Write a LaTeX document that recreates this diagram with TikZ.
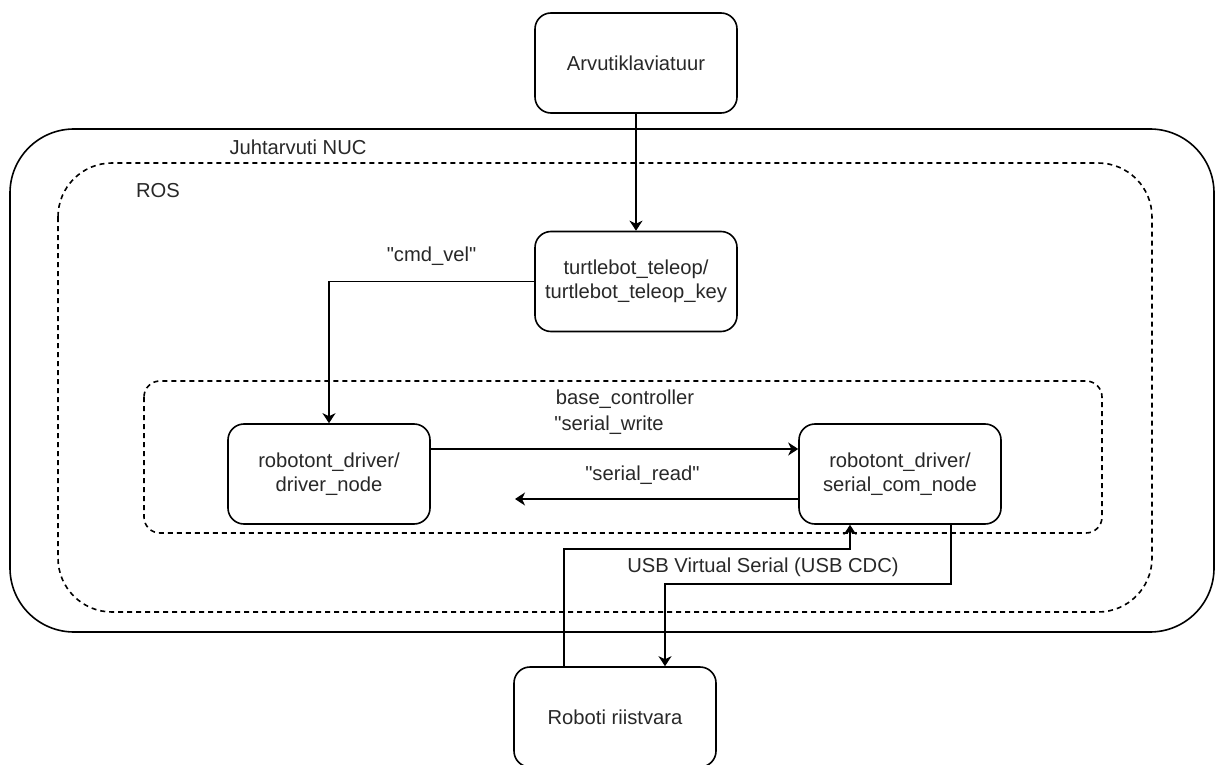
\documentclass[tikz,border=0pt]{standalone}
\usepackage{fontspec}
\setmainfont{Liberation Sans}[Ligatures=TeXOff]
\usetikzlibrary{arrows.meta,calc}
\definecolor{txt}{RGB}{40,40,40}
\begin{document}
\begin{tikzpicture}[x=0.5pt,y=-0.5pt,
  box/.style={draw,line width=0.8pt,rounded corners=8pt,minimum width=101pt,minimum height=50pt,align=center,inner sep=0pt,font=\fontsize{10.1}{12}\selectfont,text=txt},
  lbl/.style={font=\fontsize{10.1}{12}\selectfont,text=txt,inner sep=0pt},
  conn/.style={draw,line width=0.8pt,-{Stealth[length=5pt,width=6.5pt,inset=1.5pt]}},
  dsh/.style={draw,line width=0.8pt,dash pattern=on 2.5pt off 2pt}]
\useasboundingbox (0,0) rectangle (1216,765);
\fill[white] (0,0) rectangle (1216,765);
% containers
\draw[line width=0.8pt,rounded corners=32pt] (10,129) rectangle (1214,632);
\draw[dsh,rounded corners=27pt] (58,163) rectangle (1152,612);
\draw[dsh,rounded corners=8pt] (144,381) rectangle (1102,533);
\node[lbl] (nuc) at (298,147) {Juhtarvuti NUC};
\node[lbl] (ros) at (158,191) {ROS};
\node[lbl] (basec) at (625,399) {base\_controller};
% nodes
\node[box] (arv) at (636,63) {Arvutiklaviatuur};
\node[box] (turtle) at (636,281.5) {turtlebot\_teleop/\\turtlebot\_teleop\_key};
\node[box] (driver) at (329,474) {robotont\_driver/\\driver\_node};
\node[box] (serial) at (900,474) {robotont\_driver/\\serial\_com\_node};
\node[box] (robot) at (615,717) {Roboti riistvara};
\coordinate (readend) at (515,499);
% connectors
\draw[conn] (arv) -- (turtle);
\draw[conn] (turtle.west) -| node[lbl,pos=0.25,above=7.5pt] (cmdlbl) {"cmd\_vel"} (driver.north);
\draw[conn] ($(driver.east)+(0,-25)$) -- node[lbl,pos=0.485,above=7pt] (wlbl) {"serial\_write} ($(serial.west)+(0,-25)$);
\draw[conn] ($(serial.west)+(0,25)$) -- node[lbl,pos=0.55,above=7pt] (rlbl) {"serial\_read"} (readend);
\draw[conn] ($(robot.north)+(-51,0)$) -- ++(0,-117) -| ($(serial.south)+(-50,0)$);
\draw[conn] ($(serial.south)+(51,0)$) -- ++(0,59) -| ($(robot.north)+(50,0)$);
\node[lbl] (usb) at (763,567) {USB Virtual Serial (USB CDC)};
\end{tikzpicture}
\end{document}
